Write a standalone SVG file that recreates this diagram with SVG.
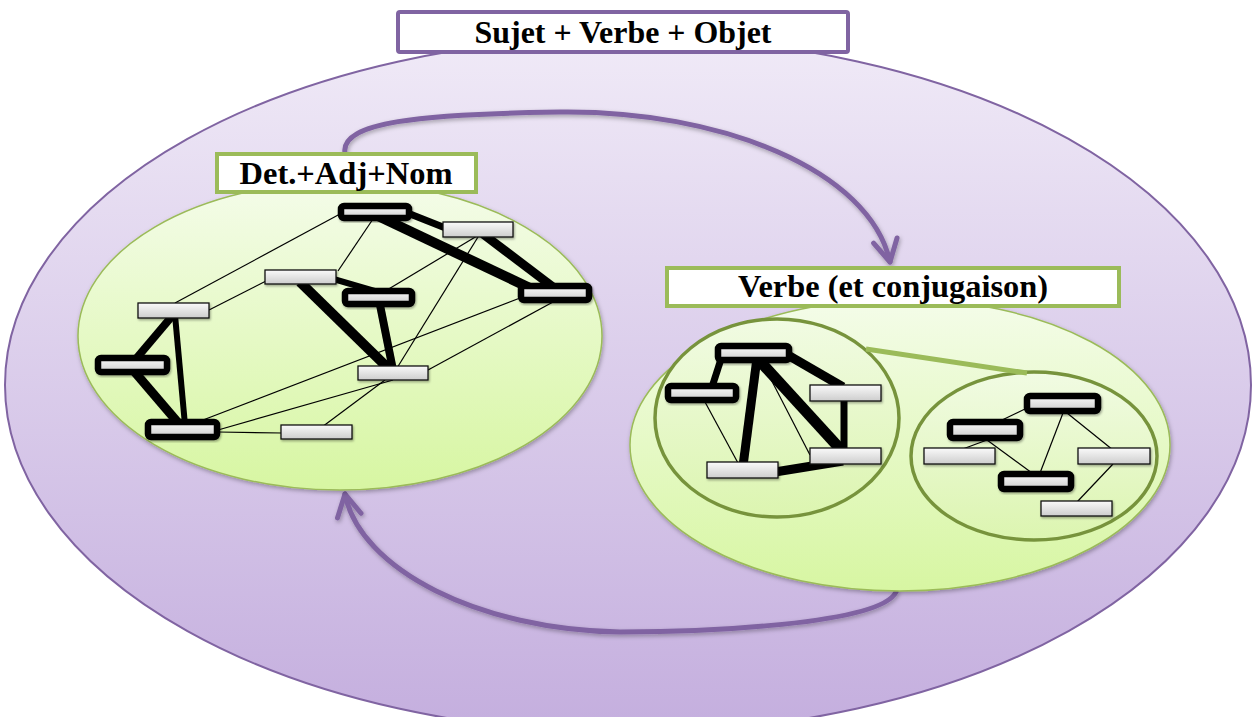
<svg xmlns="http://www.w3.org/2000/svg" width="1253" height="717" viewBox="0 0 1253 717">
<defs>
  <linearGradient id="gPurple" x1="0" y1="0" x2="0" y2="1">
    <stop offset="0" stop-color="#f0eaf7"/>
    <stop offset="1" stop-color="#c4aede"/>
  </linearGradient>
  <linearGradient id="gGreen" x1="0" y1="0" x2="0" y2="1">
    <stop offset="0" stop-color="#f4fce9"/>
    <stop offset="1" stop-color="#d7f6a2"/>
  </linearGradient>
  <linearGradient id="gGreen2" x1="0" y1="0" x2="0" y2="1">
    <stop offset="0" stop-color="#f1fbe3"/>
    <stop offset="1" stop-color="#dcf5b0"/>
  </linearGradient>
  <linearGradient id="gGray" x1="0" y1="0" x2="0" y2="1">
    <stop offset="0" stop-color="#fafafa"/>
    <stop offset="1" stop-color="#cdcdcd"/>
  </linearGradient>
  <filter id="sh" x="-10%" y="-10%" width="120%" height="130%">
    <feDropShadow dx="1" dy="2" stdDeviation="2" flood-color="#000" flood-opacity="0.3"/>
  </filter>
  <filter id="nsh" x="-10%" y="-30%" width="125%" height="170%">
    <feDropShadow dx="1" dy="1.5" stdDeviation="1" flood-color="#000" flood-opacity="0.35"/>
  </filter>
  <marker id="vhead" viewBox="-26 -16 30 32" markerWidth="30" markerHeight="32" refX="0" refY="0" orient="auto" markerUnits="userSpaceOnUse">
    <path d="M-22,-12 L0,0 L-22,12" fill="none" stroke="#8064a2" stroke-width="5" stroke-linecap="round" stroke-linejoin="round"/>
  </marker>
  <style>
    .title { font-family: "Liberation Serif", "Times New Roman", serif; font-weight: bold; fill: #000; text-anchor: middle; }
    .hbox-p { fill: #fff; stroke: #8064a2; stroke-width: 4; }
    .hbox-g { fill: #fff; stroke: #9bbb59; stroke-width: 4; }
    .big-arrow { fill: none; stroke: #8064a2; stroke-width: 5; stroke-linecap: round; }
    .n { fill: url(#gGray); stroke: #111; stroke-width: 1.3; filter: url(#nsh); }
    .nb { fill: url(#gGray); stroke: #000; stroke-width: 6.5; filter: url(#nsh); }
    .e { stroke: #000; stroke-width: 1.2; fill: none; }
    .t { stroke: #000; fill: none; }
    .circ { fill: url(#gGreen2); stroke: #77933c; stroke-width: 3.5; }
  </style>
</defs>

<!-- outer container -->
<g id="container">
  <ellipse cx="628" cy="385" rx="623" ry="348" fill="url(#gPurple)" stroke="#8064a2" stroke-width="2"/>
</g>

<!-- big cycle arrows -->
<g id="cycle-connectors" filter="url(#sh)">
  <path class="big-arrow" d="M345,153 C340,122 420,114 560,112 C720,110 870,170 890,262" marker-end="url(#vhead)"/>
  <path class="big-arrow" d="M896,592 C880,625 700,632 620,632 C480,630 360,570 345,494" marker-end="url(#vhead)"/>
</g>

<!-- group: Det.+Adj+Nom -->
<g id="group-nominal">
  <ellipse cx="340" cy="336" rx="262" ry="154" fill="url(#gGreen)" stroke="#9bbb59" stroke-width="1.5" filter="url(#sh)"/>
</g>

<!-- group: Verbe -->
<g id="group-verbe">
  <ellipse cx="900" cy="445" rx="270" ry="146" fill="url(#gGreen)" stroke="#9bbb59" stroke-width="1.5" filter="url(#sh)"/>
  <ellipse class="circ" cx="777" cy="418" rx="122" ry="99"/>
  <ellipse class="circ" cx="1034" cy="456" rx="123" ry="84"/>
</g>

<!-- headers -->
<g id="header-main">
  <rect class="hbox-p" x="398" y="12" width="450" height="40" rx="2"/>
  <text class="title" x="623" y="43" font-size="31" textLength="297" lengthAdjust="spacingAndGlyphs">Sujet + Verbe + Objet</text>
</g>
<g id="header-nominal">
  <rect class="hbox-g" x="217" y="154" width="259" height="38"/>
  <text class="title" x="346" y="184" font-size="31" textLength="213" lengthAdjust="spacingAndGlyphs">Det.+Adj+Nom</text>
</g>
<g id="header-verbe">
  <rect class="hbox-g" x="667" y="268" width="452" height="38"/>
  <text class="title" x="893" y="297" font-size="31" textLength="310" lengthAdjust="spacingAndGlyphs">Verbe (et conjugaison)</text>
</g>

<!-- network connectors -->
<g id="connectors">
  <!-- link between the two verb circles -->
  <line x1="866" y1="349" x2="1027" y2="373" stroke="#9bbb59" stroke-width="5"/>
  <!-- left network: thin -->
  <line class="e" x1="340" y1="214" x2="175" y2="303"/>
  <line class="e" x1="373" y1="219" x2="338" y2="271"/>
  <line class="e" x1="209" y1="310" x2="270" y2="279"/>
  <line class="e" x1="477" y1="236" x2="387" y2="290"/>
  <line class="e" x1="478" y1="237" x2="397" y2="368"/>
  <line class="e" x1="520" y1="298" x2="190" y2="425"/>
  <line class="e" x1="553" y1="302" x2="428" y2="370"/>
  <line class="e" x1="393" y1="380" x2="218" y2="430"/>
  <line class="e" x1="385" y1="380" x2="322" y2="427"/>
  <line class="e" x1="218" y1="432" x2="282" y2="433"/>
  <!-- left network: thick -->
  <line class="t" stroke-width="10" x1="378" y1="216" x2="532" y2="289"/>
  <line class="t" stroke-width="7" x1="405" y1="212" x2="448" y2="229"/>
  <line class="t" stroke-width="9" x1="483" y1="234" x2="553" y2="287"/>
  <line class="t" stroke-width="6" x1="330" y1="278" x2="378" y2="292"/>
  <line class="t" stroke-width="10" x1="300" y1="282" x2="390" y2="370"/>
  <line class="t" stroke-width="8" x1="380" y1="305" x2="393" y2="370"/>
  <line class="t" stroke-width="8" x1="173" y1="315" x2="135" y2="360"/>
  <line class="t" stroke-width="6" x1="175" y1="315" x2="185" y2="425"/>
  <line class="t" stroke-width="9" x1="133" y1="370" x2="180" y2="425"/>
  <!-- verb circle 1 -->
  <line class="e" x1="762" y1="362" x2="810" y2="455"/>
  <line class="e" x1="705" y1="402" x2="738" y2="463"/>
  <line class="t" stroke-width="7" x1="722" y1="356" x2="712" y2="387"/>
  <line class="t" stroke-width="9" x1="786" y1="354" x2="843" y2="387"/>
  <line class="t" stroke-width="11" x1="757" y1="358" x2="843" y2="452"/>
  <line class="t" stroke-width="9" x1="757" y1="358" x2="743" y2="466"/>
  <line class="t" stroke-width="7" x1="844" y1="400" x2="844" y2="450"/>
  <line class="t" stroke-width="9" x1="775" y1="472" x2="843" y2="461"/>
  <!-- verb circle 2 -->
  <line class="e" x1="1027" y1="408" x2="1000" y2="421"/>
  <line class="e" x1="987" y1="440" x2="960" y2="450"/>
  <line class="e" x1="987" y1="440" x2="1032" y2="473"/>
  <line class="e" x1="1063" y1="413" x2="1040" y2="473"/>
  <line class="e" x1="1067" y1="413" x2="1113" y2="450"/>
  <line class="e" x1="1113" y1="464" x2="1077" y2="502"/>
</g>

<!-- left network nodes -->
<g id="node-a"><rect class="nb" x="341" y="206" width="68" height="12" rx="3"/></g>
<g id="node-b"><rect class="n" x="443" y="222" width="70" height="15"/></g>
<g id="node-c"><rect class="nb" x="521" y="286" width="68" height="14" rx="3"/></g>
<g id="node-d"><rect class="n" x="265" y="270" width="71" height="14"/></g>
<g id="node-e"><rect class="nb" x="345" y="291" width="67" height="13" rx="3"/></g>
<g id="node-f"><rect class="n" x="358" y="366" width="70" height="14"/></g>
<g id="node-g"><rect class="n" x="138" y="303" width="71" height="15"/></g>
<g id="node-h"><rect class="nb" x="98" y="358" width="69" height="14" rx="3"/></g>
<g id="node-i"><rect class="nb" x="148" y="422" width="69" height="15" rx="3"/></g>
<g id="node-j"><rect class="n" x="281" y="425" width="71" height="14"/></g>

<!-- verb circle 1 nodes -->
<g id="node-p"><rect class="nb" x="718" y="346" width="71" height="14" rx="3"/></g>
<g id="node-q"><rect class="nb" x="668" y="386" width="68" height="14" rx="3"/></g>
<g id="node-r"><rect class="n" x="810" y="385" width="71" height="16"/></g>
<g id="node-s"><rect class="n" x="810" y="448" width="71" height="16"/></g>
<g id="node-t"><rect class="n" x="707" y="462" width="71" height="16"/></g>

<!-- verb circle 2 nodes -->
<g id="node-u"><rect class="nb" x="1027" y="396" width="71" height="15" rx="3"/></g>
<g id="node-v"><rect class="nb" x="950" y="422" width="70" height="16" rx="3"/></g>
<g id="node-w"><rect class="n" x="924" y="448" width="71" height="16"/></g>
<g id="node-x"><rect class="n" x="1078" y="448" width="72" height="16"/></g>
<g id="node-y"><rect class="nb" x="1001" y="474" width="70" height="15" rx="3"/></g>
<g id="node-z"><rect class="n" x="1041" y="501" width="71" height="15"/></g>
</svg>
